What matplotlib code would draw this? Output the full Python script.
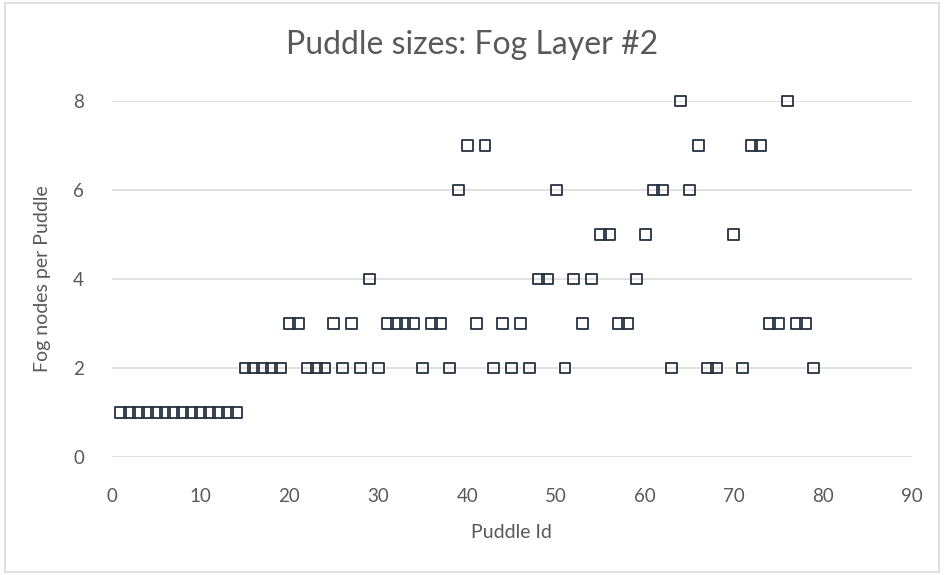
import matplotlib.pyplot as plt
from matplotlib.patches import Rectangle

# puddle id -> number of fog nodes in that puddle
puddle_id = list(range(1, 69)) + list(range(70, 80))
fog_nodes = [1, 1, 1, 1, 1, 1, 1, 1, 1, 1, 1, 1, 1, 1,      # 1-14
             2, 2, 2, 2, 2,                                 # 15-19
             3, 3, 2, 2, 2, 3, 2, 3, 2, 4, 2,               # 20-30
             3, 3, 3, 3, 2, 3, 3, 2, 6, 7,                  # 31-40
             3, 7, 2, 3, 2, 3, 2, 4, 4, 6,                  # 41-50
             2, 4, 3, 4, 5, 5, 3, 3, 4, 5,                  # 51-60
             6, 6, 2, 8, 6, 7, 2, 2,                        # 61-68
             5, 2, 7, 7, 3, 3, 8, 3, 3, 2]                  # 70-79

x_ticks = [0, 10, 20, 30, 40, 50, 60, 70, 80, 90]
y_ticks = [0, 2, 4, 6, 8]

text_grey = '#595959'
plt.rcParams['font.family'] = ['Lato', 'DejaVu Sans']

fig = plt.figure(figsize=(9.44, 5.75), dpi=100)
ax = fig.add_axes([0.1183, 0.2052, 0.8475, 0.6191])

ax.scatter(puddle_id, fog_nodes, marker='s', s=62, facecolors='none',
           edgecolors='#26313f', linewidths=1.3, clip_on=False, zorder=3)

ax.set_xlim(0, 90)
ax.set_ylim(0, 8)
ax.set_xticks(x_ticks)
ax.set_yticks(y_ticks)
ax.grid(axis='y', color='#d9d9d9', linewidth=1.1)
ax.set_axisbelow(True)
for s in ax.spines.values():
    s.set_visible(False)
ax.tick_params(length=0, colors=text_grey, labelsize=13.5)
ax.tick_params(axis='x', pad=22)
ax.tick_params(axis='y', pad=20)

ax.set_xlabel('Puddle Id', color=text_grey, fontsize=14, labelpad=14)
ax.set_ylabel('Fog nodes per Puddle', color=text_grey, fontsize=14, labelpad=16)

fig.text(0.5, 1 - 45 / 575, 'Puddle sizes: Fog Layer #2', ha='center', va='center',
         color=text_grey, fontsize=23)

# chart area frame
fig.patches.append(Rectangle((0.005, 0.006), 0.99, 0.988, transform=fig.transFigure,
                             fill=False, edgecolor='#d9d9d9', linewidth=1.2))

fig.savefig('out.png', dpi=100)
